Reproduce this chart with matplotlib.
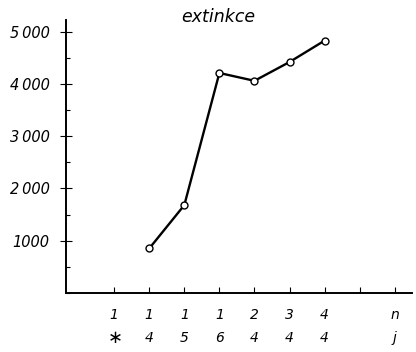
import matplotlib

matplotlib.use("Agg")

import matplotlib.pyplot as plt
from matplotlib.ticker import MultipleLocator
import matplotlib.transforms as mtransforms

# data
positions = [1, 2, 3, 4, 5, 6, 7, 8, 9]
labels_top = ["1", "1", "1", "1", "2", "3", "4", "", "n"]
labels_bottom = ["$\\ast$", "4", "5", "6", "4", "4", "4", "", "j"]
point_x = [2, 3, 4, 5, 6, 7]
extinkce = [850, 1680, 4210, 4060, 4420, 4830]
y_ticks = [1000, 2000, 3000, 4000, 5000]
y_labels = ["1000", "2\u2009000", "3\u2009000", "4\u2009000", "5\u2009000"]

plt.rcParams["font.family"] = ["DejaVu Sans"]
plt.rcParams["font.style"] = "italic"

fig = plt.figure(figsize=(4.16, 3.52), dpi=100)
ax = fig.add_axes([0.159, 0.168, 0.832, 0.776])

ax.plot(point_x, extinkce, color="black", lw=1.7, marker="o", ms=5,
        mfc="white", mec="black", mew=1.0, zorder=3)

ax.set_xlim(-0.37, 9.5)
ax.set_ylim(0, 5230)

for side in ("top", "right"):
    ax.spines[side].set_visible(False)
ax.spines["left"].set_linewidth(1.4)
ax.spines["bottom"].set_linewidth(1.4)

ax.set_yticks(y_ticks)
ax.set_yticklabels(y_labels, fontsize=10.5, style="italic")
ax.yaxis.set_minor_locator(MultipleLocator(500))
ax.tick_params(axis="y", which="major", direction="inout", length=8, width=0.8, pad=8)
ax.tick_params(axis="y", which="minor", direction="in", length=3, width=0.8)

ax.set_xticks(positions)
ax.set_xticklabels([])
ax.tick_params(axis="x", which="major", direction="in", length=4, width=0.8)

trans = mtransforms.blended_transform_factory(ax.transData, ax.transAxes)
for x, t, b in zip(positions, labels_top, labels_bottom):
    ax.text(x, -0.08, t, transform=trans, ha="center", va="center",
            fontsize=10, style="italic")
    ax.text(x, -0.165, b, transform=trans, ha="center", va="center",
            fontsize=13 if b.startswith("$") else 10, style="italic")

ax.text(0.44, 1.01, "extinkce", transform=ax.transAxes, ha="center", va="center",
        fontsize=12.5, style="italic")

fig.savefig("out.png", dpi=100)
